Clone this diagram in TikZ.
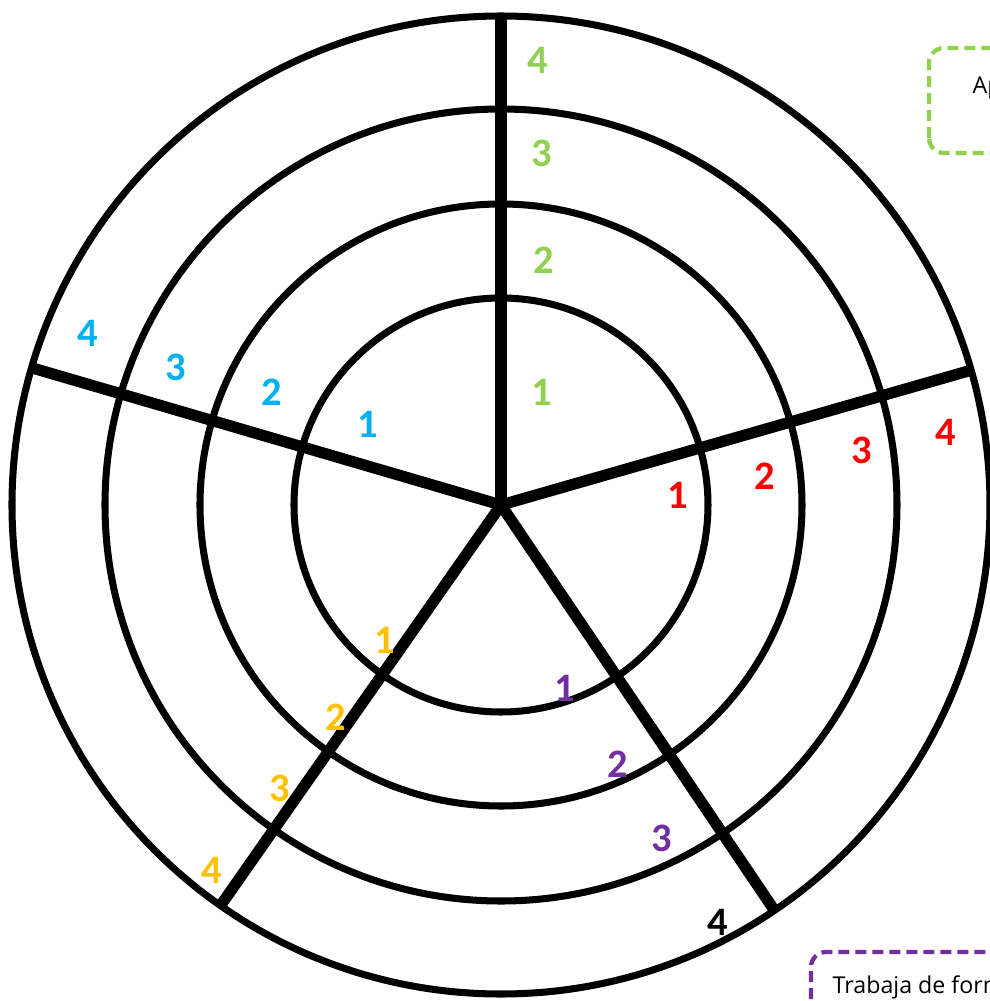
\documentclass[tikz,border=0pt]{standalone}
\usepackage{fontspec}
\setmainfont{Carlito}
\newfontfamily\notefont{Open Sans}
\usepackage{tikz}
\usetikzlibrary{positioning}
\definecolor{lvgreen}{RGB}{146,208,80}
\definecolor{lvblue}{RGB}{0,176,240}
\definecolor{lvred}{RGB}{255,0,0}
\definecolor{lvyellow}{RGB}{255,192,0}
\definecolor{lvpurple}{RGB}{112,48,160}
\tikzset{
  ring/.style={draw=black, line width=2pt},
  spoke/.style={draw=black, line width=3.2pt},
  lvl/.style={font=\fontsize{11.5}{13}\selectfont\bfseries, inner sep=0pt},
  notebox/.style={rounded corners=0.15cm, line width=1.2pt,
    dash pattern=on 0.11cm off 0.06cm},
  notetext/.style={font=\notefont\fontsize{6.6}{8}\selectfont,
    anchor=base west, inner sep=0pt}
}

\begin{document}
\begin{tikzpicture}
  \useasboundingbox (-5.01,-4.96) rectangle (4.89,5.05);
  \clip (-5.01,-4.96) rectangle (4.89,5.05);
  \coordinate (O) at (0,0);
  % Rings
  \draw[ring] (O) circle (2.07);
  \draw[ring] (O) circle (3.01);
  \draw[ring] (O) circle (3.96);
  \draw[ring] (O) circle (4.89);
  % Spokes
  \coordinate (sN) at (90:4.89);
  \coordinate (sE) at (16:4.89);
  \coordinate (sW) at (163.7:4.89);
  \coordinate (sSW) at (235:4.89);
  \coordinate (sSE) at (304:4.89);
  \draw[spoke] (O) -- (sN);
  \draw[spoke] (O) -- (sE);
  \draw[spoke] (O) -- (sW);
  \draw[spoke] (O) -- (sSW);
  \draw[spoke] (O) -- (sSE);
  % Level numbers
  \node[lvl, text=lvgreen] (g1) at (0.41,1.13) {1};
  \node[lvl, text=lvgreen] (g2) at (0.43,2.45) {2};
  \node[lvl, text=lvgreen] (g3) at (0.41,3.52) {3};
  \node[lvl, text=lvgreen] (g4) at (0.37,4.45) {4};
  \node[lvl, text=lvblue] (b1) at (-1.33,0.81) {1};
  \node[lvl, text=lvblue] (b2) at (-2.29,1.13) {2};
  \node[lvl, text=lvblue] (b3) at (-3.25,1.38) {3};
  \node[lvl, text=lvblue] (b4) at (-4.13,1.72) {4};
  \node[lvl, text=lvred] (r1) at (1.77,0.10) {1};
  \node[lvl, text=lvred] (r2) at (2.64,0.29) {2};
  \node[lvl, text=lvred] (r3) at (3.61,0.55) {3};
  \node[lvl, text=lvred] (r4) at (4.45,0.73) {4};
  \node[lvl, text=lvyellow] (y1) at (-1.16,-1.35) {1};
  \node[lvl, text=lvyellow] (y2) at (-1.65,-2.12) {2};
  \node[lvl, text=lvyellow] (y3) at (-2.21,-2.83) {3};
  \node[lvl, text=lvyellow] (y4) at (-2.89,-3.65) {4};
  \node[lvl, text=lvpurple] (p1) at (0.64,-1.83) {1};
  \node[lvl, text=lvpurple] (p2) at (1.17,-2.59) {2};
  \node[lvl, text=lvpurple] (p3) at (1.61,-3.33) {3};
  \node[lvl, text=black] (k4) at (2.17,-4.17) {4};
  % Note boxes, cut by the page edge
  \draw[notebox, draw=lvgreen] (4.28,3.52) rectangle (5.80,4.57);
  \node[notetext] (apnote) at (4.71,4.12) {Ap};
  \draw[notebox, draw=lvpurple] (3.10,-5.60) rectangle (5.80,-4.47);
  \node[notetext] (worknote) at (3.31,-4.88) {Trabaja de form};
\end{tikzpicture}
\end{document}
